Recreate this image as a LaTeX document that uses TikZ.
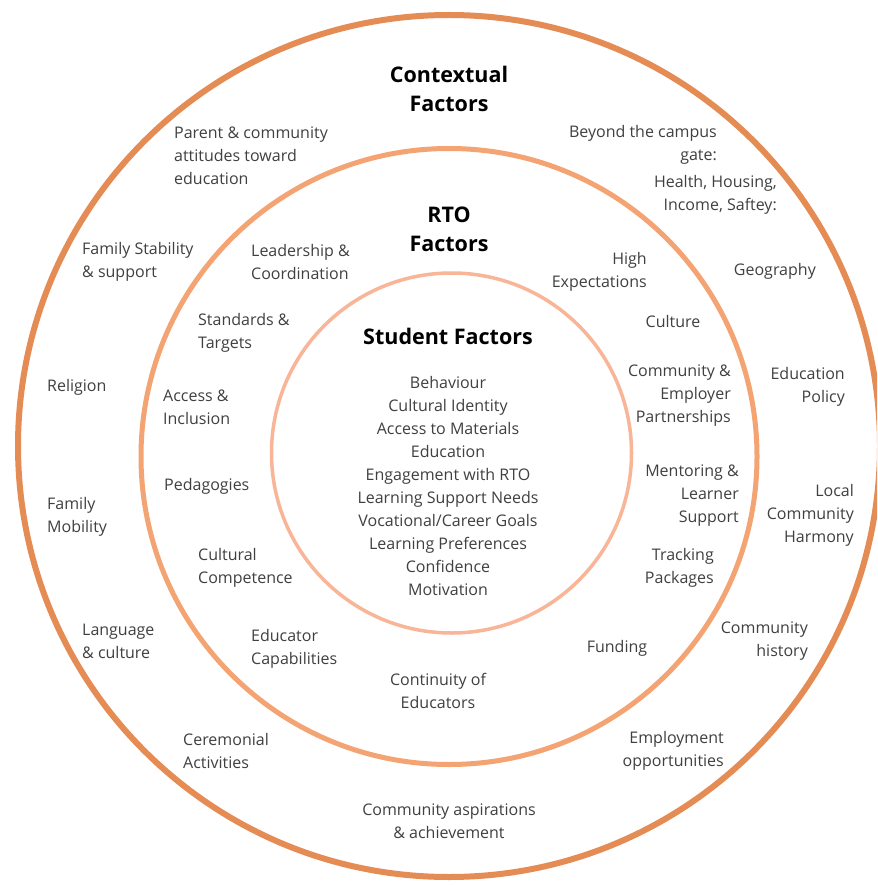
\documentclass[tikz,border=0pt]{standalone}
\usepackage{fontspec}
\setmainfont{Open Sans}
\IfFontExistsTF{Open Sans ExtraBold}{\newfontfamily\titlefont{Open Sans ExtraBold}}{\newfontfamily\titlefont{Open Sans Bold}}
\definecolor{ringouter}{HTML}{E48C54}
\definecolor{ringmid}{HTML}{F4A373}
\definecolor{ringinner}{HTML}{F8B597}
\definecolor{labelgray}{HTML}{404040}
\tikzset{
  lbl/.style={inner sep=0pt, text=labelgray, font=\fontsize{16}{23}\selectfont},
  lblL/.style={lbl, anchor=west, align=left},
  lblR/.style={lbl, anchor=east, align=right},
  lblC/.style={lbl, anchor=center, align=center},
  ttl/.style={inner sep=0pt, text=black, anchor=center, align=center, font=\titlefont\fontsize{21.5}{28.5}\selectfont},
}
\begin{document}
\begin{tikzpicture}[x=1pt,y=-1pt]
\useasboundingbox (0,0) rectangle (877,885);
\clip (0,0) rectangle (877,885);
\fill[white] (0,0) rectangle (877,885);
% rings
\draw[ringouter, line width=6pt] (449,446) circle[radius=431];
\draw[ringmid, line width=5pt] (449,456.5) circle[radius=308];
\draw[ringinner, line width=3.5pt] (451.5,453) circle[radius=180];

% Contextual factors
\node[ttl] (ctitle) at (449,89) {Contextual\\Factors};
\node[lblL] (parent) at (174,156) {Parent \& community\\attitudes toward\\education};
\node[lblR] (beyond) at (717,144.5) {Beyond the campus\\gate:};
\node[lblR] (health) at (777,194.5) {Health, Housing,\\Income, Saftey:};
\node[lblL] (famstab) at (82,261.5) {Family Stability\\\& support};
\node[lblR] (geo) at (816,271) {Geography};
\node[lblL] (religion) at (47,387) {Religion};
\node[lblR] (edpol) at (845,386.5) {Education\\Policy};
\node[lblL] (fammob) at (47,516.5) {Family\\Mobility};
\node[lblR] (harmony) at (854,515) {Local\\Community\\Harmony};
\node[lblL] (lang) at (82,641.5) {Language\\\& culture};
\node[lblR] (commhist) at (808,641.5) {Community\\history};
\node[lblL] (cerem) at (183,750.5) {Ceremonial\\Activities};
\node[lblR] (employ) at (724,750.5) {Employment\\opportunities};
\node[lblC] (aspir) at (449,821.5) {Community aspirations\\\& achievement};

% RTO factors
\node[ttl] (rtitle) at (449,229.5) {RTO\\Factors};
\node[lblL] (leader) at (251,261.5) {Leadership \&\\Coordination};
\node[lblR] (highexp) at (647,271.5) {High\\Expectations};
\node[lblL] (standards) at (198,332.5) {Standards \&\\Targets};
\node[lblC] (culture) at (673,321) {Culture};
\node[lblL] (access) at (163,407.5) {Access \&\\Inclusion};
\node[lblR] (commemp) at (731,396) {Community \&\\Employer\\Partnerships};
\node[lblL] (pedag) at (164,486) {Pedagogies};
\node[lblR] (mentor) at (739,496) {Mentoring \&\\Learner\\Support};
\node[lblL] (cultcomp) at (198,567.5) {Cultural\\Competence};
\node[lblR] (tracking) at (714,567.5) {Tracking\\Packages};
\node[lblL] (educap) at (251,648.5) {Educator\\Capabilities};
\node[lblC] (funding) at (617,648) {Funding};
\node[lblC] (contin) at (438,690.5) {Continuity of\\Educators};

% Student factors
\node[ttl] (stitle) at (448,336) {Student Factors};
\node[lblC] (slist) at (448,485.5) {Behaviour\\Cultural Identity\\Access to Materials\\Education\\Engagement with RTO\\Learning Support Needs\\Vocational/Career Goals\\Learning Preferences\\Confidence\\Motivation};
\end{tikzpicture}
\end{document}
